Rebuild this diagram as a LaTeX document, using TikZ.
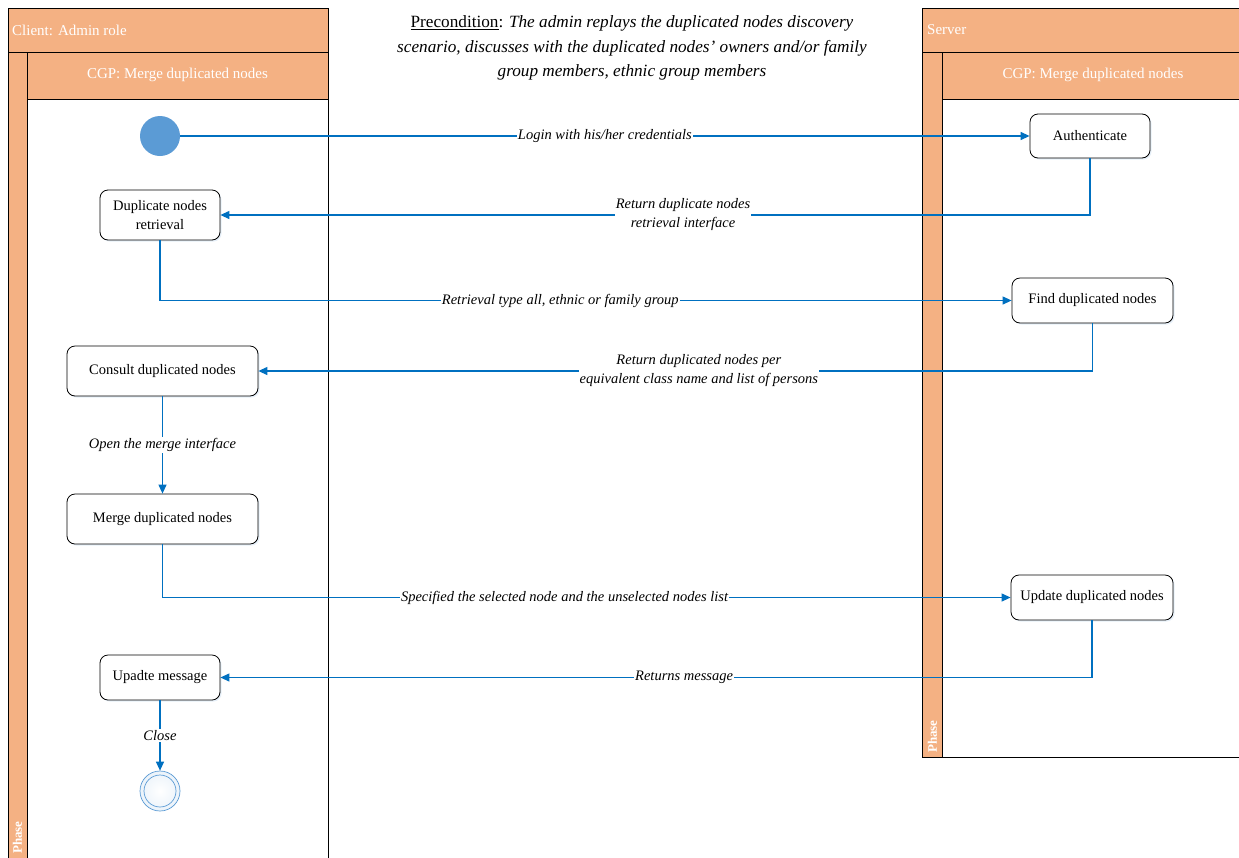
\documentclass[tikz,border=0pt]{standalone}
\usepackage{fontspec}
\setmainfont{Liberation Serif}
\usetikzlibrary{arrows.meta,shadows}
\definecolor{laneor}{RGB}{244,177,131}
\definecolor{flowblue}{RGB}{0,112,192}
\definecolor{startblue}{RGB}{91,155,213}
\tikzset{
  lanebox/.style={draw=black, line width=0.9pt, fill=laneor},
  bodybox/.style={draw=black, line width=0.9pt, fill=white},
  lanetxt/.style={text=white, font=\fontsize{15}{17}\selectfont, inner sep=0pt},
  phasetxt/.style={text=white, font=\bfseries\fontsize{13}{15}\selectfont, rotate=90, inner sep=0pt},
  act/.style={draw=black, line width=0.8pt, rounded corners=8pt, fill=white, align=center,
    font=\fontsize{14.5}{19}\selectfont, inner sep=2pt,
    drop shadow={shadow xshift=1.5pt, shadow yshift=-1.5pt, opacity=0.25, fill=startblue!60}},
  flow/.style={draw=flowblue, line width=1.2pt, -{Triangle[length=9pt,width=8pt]}},
  lbl/.style={fill=white, font=\itshape\fontsize{14.5}{19}\selectfont, inner sep=1pt, align=center, text=black}
}
\begin{document}
\begin{tikzpicture}[x=1pt,y=-1pt]
\useasboundingbox (0,0) rectangle (1239,857);
% left pool
\path[bodybox] (8,8) rectangle (328,870);
\path[lanebox] (8,8) rectangle (328,52);
\path[lanebox] (8,52) rectangle (27,870);
\path[lanebox] (27,52) rectangle (328,99);
\node[lanetxt, anchor=west] (lefthead) at (12,30) {Client: Admin role};
\node[lanetxt] (leftsub) at (177.5,75) {CGP: Merge duplicated nodes};
\node[phasetxt, anchor=west] (leftphase) at (17.5,854) {Phase};
% right pool
\path[bodybox] (922,8) rectangle (1250,757);
\path[lanebox] (922,8) rectangle (1250,52);
\path[lanebox] (922,52) rectangle (942,757);
\path[lanebox] (942,52) rectangle (1250,99);
\node[lanetxt, anchor=west] (righthead) at (927,30) {Server};
\node[lanetxt] (rightsub) at (1093,75) {CGP: Merge duplicated nodes};
\node[phasetxt, anchor=west] (rightphase) at (932.5,753) {Phase};
% precondition
\node[align=center, font=\fontsize{17.2}{24.5}\selectfont] (pre) at (632,48)
  {\underline{Precondition}: \textit{The admin replays the duplicated nodes discovery}\\
   \textit{scenario, discusses with the duplicated nodes’ owners and/or family}\\
   \textit{group members, ethnic group members}};
% activities
\node[circle, fill=startblue, minimum size=40pt, inner sep=0pt] (start) at (160,136) {};
\node[act, minimum width=120pt, minimum height=50pt] (dnr) at (160,215) {Duplicate nodes\\retrieval};
\node[act, minimum width=191pt, minimum height=50pt] (consult) at (162.5,371) {Consult duplicated nodes};
\node[act, minimum width=191pt, minimum height=50pt] (merge) at (162.5,519) {Merge duplicated nodes};
\node[act, minimum width=120pt, minimum height=45pt] (upm) at (160,677.5) {Upadte message};
\node[circle, draw=startblue, line width=0.7pt, minimum size=40pt, inner sep=0pt, inner color=white, outer color=startblue!12] (end) at (160,791) {};
\draw[startblue, line width=0.7pt] (end.center) circle (16pt);
\node[act, minimum width=120pt, minimum height=44pt] (auth) at (1090,136) {Authenticate};
\node[act, minimum width=161pt, minimum height=45pt] (find) at (1092.5,300.5) {Find duplicated nodes};
\node[act, minimum width=162pt, minimum height=45pt] (upd) at (1092,597.5) {Update duplicated nodes};
% flows
\draw[flow] (start) -- node[lbl] (l1) {Login with his/her credentials} (auth);
\draw[flow] (auth.south) |- node[lbl, pos=0.734] (l2) {Return duplicate nodes\\retrieval interface} (dnr.east);
\draw[flow] (dnr.south) |- node[lbl, pos=0.735] (l3) {Retrieval type all, ethnic or family group} (find.west);
\draw[flow] (find.south) |- node[lbl, pos=0.736] (l4) {Return duplicated nodes per\\equivalent class name and list of persons} (consult.east);
\draw[flow] (consult) -- node[lbl] (l5) {Open the merge interface} (merge);
\draw[flow] (merge.south) |- node[lbl, pos=0.737] (l6) {Specified the selected node and the unselected nodes list} (upd.west);
\draw[flow] (upd.south) |- node[lbl, pos=0.734] (l7) {Returns message} (upm.east);
\draw[flow] (upm) -- node[lbl] (l8) {Close} (end);
\end{tikzpicture}
\end{document}
